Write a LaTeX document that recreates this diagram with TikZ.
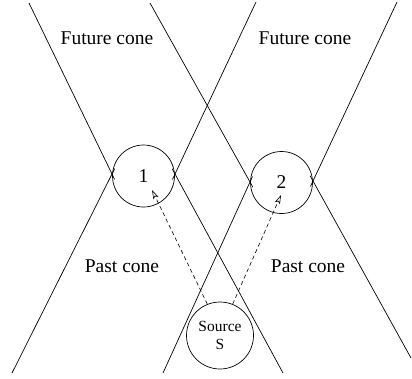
\documentclass[tikz,border=0pt]{standalone}
\usepackage{fontspec}
\setmainfont{Liberation Serif}
\usetikzlibrary{calc,arrows.meta}
\begin{document}
\begin{tikzpicture}[x=1pt,y=-1pt,
  cone/.style={line width=0.7pt},
  event/.style={draw,circle,line width=0.7pt,inner sep=0pt,minimum size=62pt,font=\fontsize{19.5}{22}\selectfont},
  source/.style={draw,circle,line width=0.7pt,inner sep=0pt,minimum size=67pt,align=center,font=\fontsize{15.5}{18.5}\selectfont},
  lbl/.style={font=\fontsize{19.5}{22}\selectfont,inner sep=0pt},
  ray/.style={dashed,dash pattern=on 4pt off 3pt,line width=0.6pt,-{Stealth[open,length=9pt,width=5.5pt,inset=2pt]}}]
\useasboundingbox (0,0) rectangle (412,378);
% events
\node[event] (e1) at (143.5,176) {1};
\node[event] (e2) at (281.5,182.5) {2};
\node[source] (s) at (220,335.5) {Source\\S};
% crossing points on circle edges
\coordinate (x1l) at (112,174);
\coordinate (x1r) at (175,174);
\coordinate (x2l) at (250,182);
\coordinate (x2r) at (313,181);
% free ends
\coordinate (t1) at (29,3);
\coordinate (b1) at (12,373);
\coordinate (t2) at (256,2);
\coordinate (b2) at (283,373);
\coordinate (t3) at (150,3);
\coordinate (b3) at (163,373);
\coordinate (t4) at (397,2);
\coordinate (b4) at (411,358);
% cone boundaries
\foreach \e/\c in {t1/x1l,b1/x1l,t2/x1r,b2/x1r,t3/x2l,b3/x2l,t4/x2r,b4/x2r}
  \draw[cone] (\e) -- ($(\c)!-6pt!(\e)$);
% labels
\node[lbl] (f1) at (107,38) {Future cone};
\node[lbl] (f2) at (305,38) {Future cone};
\node[lbl] (p1) at (122,266) {Past cone};
\node[lbl] (p2) at (308,266) {Past cone};
% signals
\coordinate (a1) at (152,190);
\coordinate (a2) at (281,195);
\draw[ray] (s.112) -- (a1);
\draw[ray] (s.68) -- (a2);
\end{tikzpicture}
\end{document}
